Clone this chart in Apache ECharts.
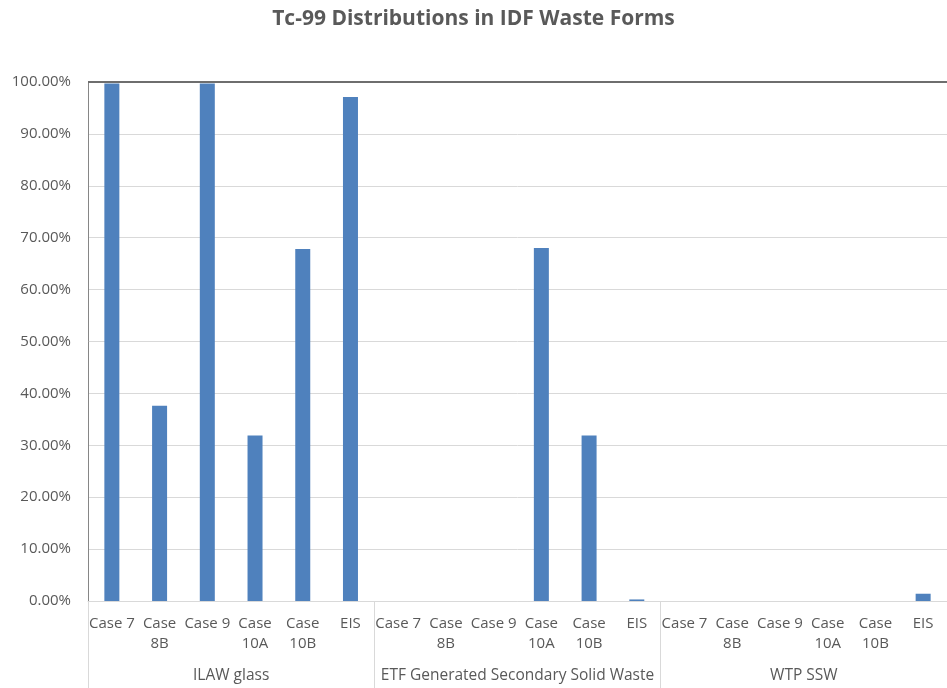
<!DOCTYPE html>
<html>
<head>
<meta charset="utf-8">
<script src="https://cdn.jsdelivr.net/npm/echarts@6/dist/echarts.min.js"></script>
<style>html,body{margin:0;padding:0;background:#fff}#c{width:947px;height:688px}</style>
</head>
<body>
<div id="c"></div>
<script>
const categories = ['Case 7','Case\n8B','Case 9','Case\n10A','Case\n10B','EIS',
                    'Case 7','Case\n8B','Case 9','Case\n10A','Case\n10B','EIS',
                    'Case 7','Case\n8B','Case 9','Case\n10A','Case\n10B','EIS'];
const groups = ['ILAW glass','ETF Generated Secondary Solid Waste','WTP SSW'];
const values = [99.7, 37.6, 99.7, 31.9, 67.8, 97.1,
                0, 0, 0, 68.0, 31.9, 0.3,
                0, 0, 0, 0, 0, 1.4];
const yTicks = [0,10,20,30,40,50,60,70,80,90,100];

const font = '"Open Sans", Lato, sans-serif';
const chart = echarts.init(document.getElementById('c'));
chart.setOption({
  animation: false,
  title: {
    text: 'Tc-99 Distributions in IDF Waste Forms',
    left: 'center', top: 4,
    textStyle: {fontFamily: font, fontSize: 21, fontWeight: 'bold', color: '#595959'}
  },
  grid: {left: 88, right: -8, top: 82, bottom: 87, containLabel: false},
  xAxis: [{
    type: 'category', data: categories, position: 'bottom',
    axisLine: {show: true, lineStyle: {color: '#d9d9d9', width: 1}},
    axisTick: {show: false},
    axisLabel: {interval: 0, margin: 13, fontFamily: font, fontSize: 15, color: '#595959', lineHeight: 20}
  }, {
    type: 'category', data: groups, position: 'bottom',
    axisLine: {show: false},
    axisTick: {show: true, length: 87, interval: 0, lineStyle: {color: '#d9d9d9'}},
    axisLabel: {interval: 0, margin: 67, fontFamily: font, fontSize: 15.5, color: '#595959'}
  }],
  yAxis: {
    type: 'value', min: 0, max: 100, interval: 10,
    axisLine: {show: true, lineStyle: {color: '#868686'}},
    axisTick: {show: false},
    splitLine: {lineStyle: {color: '#d9d9d9'}},
    axisLabel: {margin: 17, fontFamily: font, fontSize: 15, color: '#595959',
      formatter: v => v.toFixed(2) + '%'}
  },
  series: [{
    type: 'bar', data: values, barWidth: 15, xAxisIndex: 0,
    itemStyle: {color: '#4f81bd'},
    markLine: {silent: true, symbol: 'none', label: {show: false},
      lineStyle: {color: '#6e6e6e', width: 2, type: 'solid'},
      data: [{yAxis: yTicks[yTicks.length - 1]}]}
  }]
});
</script>
</body>
</html>
